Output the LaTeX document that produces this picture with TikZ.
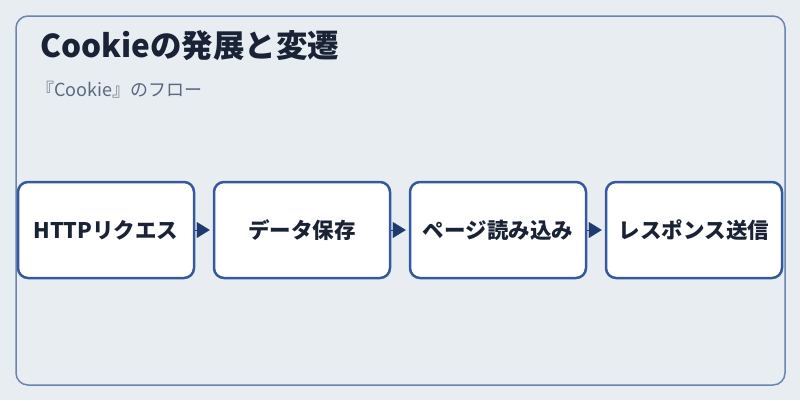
\documentclass[tikz,border=0pt]{standalone}
\usepackage{fontspec}
\setmainfont{Noto Sans CJK JP}
\usetikzlibrary{arrows.meta}
\definecolor{bgc}{HTML}{E8EDF2}
\definecolor{framec}{HTML}{6B84B0}
\definecolor{boxc}{HTML}{3558A0}
\definecolor{arrc}{HTML}{1E3A6E}
\definecolor{txtc}{HTML}{1A2335}
\definecolor{subc}{HTML}{5A6880}
\tikzset{
  stepbox/.style={draw=boxc, line width=2.5pt, fill=white, rounded corners=10pt,
    minimum width=176pt, minimum height=96pt, inner sep=0pt,
    font=\fontsize{21.5}{25}\selectfont\bfseries, text=txtc},
  flowarrow/.style={-{Triangle[length=13pt,width=16pt]}, color=arrc, line width=0.1pt, shorten >=3pt}
}
\begin{document}
\begin{tikzpicture}[x=1pt,y=-1pt]
\useasboundingbox (0,0) rectangle (800,400);
\fill[bgc] (0,0) rectangle (800,400);
\draw[framec, line width=1.5pt, rounded corners=12pt] (16,16) rectangle (785,385);
\node[anchor=base west, font=\fontsize{31.5}{36}\selectfont\bfseries, text=txtc, inner sep=0pt] (title) at (40,57.5) {Cookieの発展と変遷};
\node[anchor=base west, font=\fontsize{18}{22}\selectfont, text=subc, inner sep=0pt] (sub) at (36,96) {『Cookie』のフロー};
\node[stepbox] (b1) at (106,230) {HTTPリクエス};
\node[stepbox] (b2) at (302,230) {データ保存};
\node[stepbox] (b3) at (498,230) {ページ読み込み};
\node[stepbox] (b4) at (694,230) {レスポンス送信};
\draw[flowarrow] (b1.east) -- (b2.west);
\draw[flowarrow] (b2.east) -- (b3.west);
\draw[flowarrow] (b3.east) -- (b4.west);
\end{tikzpicture}
\end{document}
